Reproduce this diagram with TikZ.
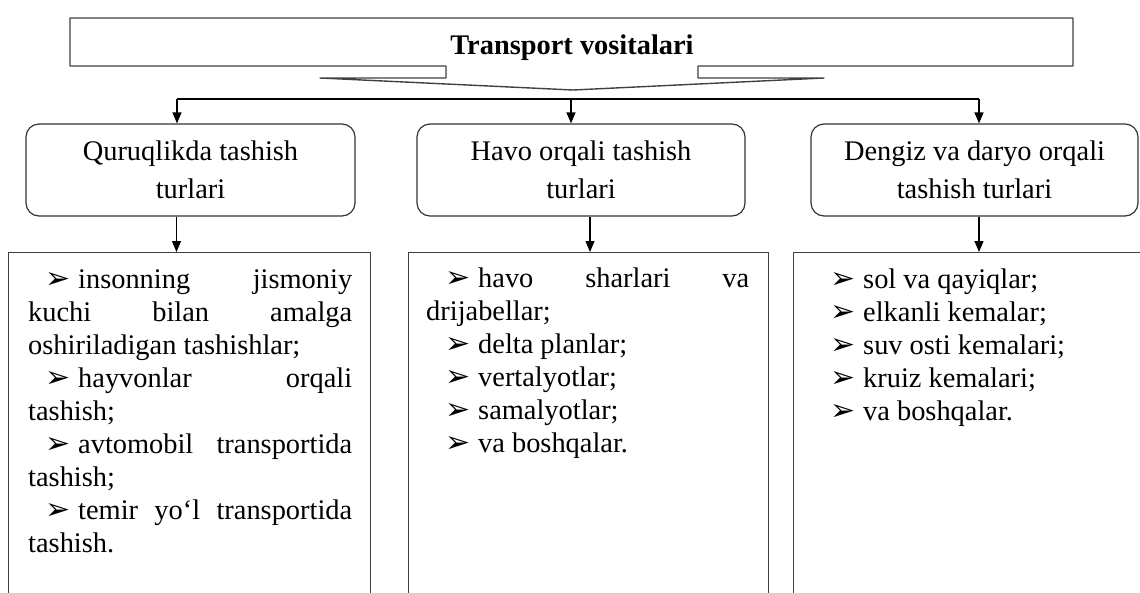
\documentclass[tikz,border=0pt]{standalone}
\usepackage{fontspec}
\setmainfont{Liberation Serif}
\newfontfamily\dingfont{DejaVu Sans}
\usetikzlibrary{arrows.meta}
\newcommand{\itm}{\makebox[33pt][l]{\smash{\dingfont\fontsize{30}{30}\selectfont ➢}}}
\newcommand{\bodyfont}{\fontsize{28.4}{33}\selectfont}
\begin{document}
\begin{tikzpicture}[x=1pt,y=-1pt,>={Triangle[length=11pt,width=9pt]},
  turbox/.style={draw=black!80,line width=1.2pt,rounded corners=13pt,minimum width=329pt,
    minimum height=92pt,align=center,font=\fontsize{28.4}{38}\selectfont,inner sep=0pt},
  listbox/.style={draw=black!75,line width=1.4pt,minimum width=362pt,minimum height=360pt,
    anchor=north west,inner sep=0pt},
  listtext/.style={anchor=base west,inner sep=0pt,font=\bodyfont}]
\useasboundingbox (0,0) rectangle (1140,592);
\clip (0,0) rectangle (1140,592);
% sarlavha
\draw[black!75,line width=1.4pt,line join=round] (70,18) -- (1073,18) -- (1073,66) -- (698,66)
  -- (698,78) -- (824,78) -- (573,90) -- (320,78) -- (446,78) -- (446,66) -- (70,66) -- cycle;
\node[font=\bfseries\fontsize{28.4}{34}\selectfont,anchor=base] (title) at (572,54) {Transport vositalari};
% tarmoq
\coordinate (bl) at (177,99);
\coordinate (bm) at (571,99);
\coordinate (br) at (979,99);
\draw[line width=1.2pt] (bl) -- (br);
\node[turbox] (quruq) at (190.5,170) {Quruqlikda tashish\\turlari};
\node[turbox,minimum width=328pt] (havo) at (581,170) {Havo orqali tashish\\turlari};
\node[turbox,minimum width=327pt] (dengiz) at (974.5,170) {Dengiz va daryo orqali\\tashish turlari};
\draw[->,line width=1.2pt] (bl) -- (bl |- quruq.north);
\draw[->,line width=1.2pt] (bm) -- (bm |- havo.north);
\draw[->,line width=1.2pt] (br) -- (br |- dengiz.north);
% ro'yxatlar
\node[listbox] (yer) at (8,252) {};
\node[listbox,minimum width=360pt] (osmon) at (408,252) {};
\node[listbox] (suv) at (793,252) {};
\draw[->,line width=1.2pt] ([xshift=-14pt]quruq.south) -- ([xshift=-14pt]quruq.south |- yer.north);
\draw[->,line width=1.2pt] ([xshift=9pt]havo.south) -- ([xshift=9pt]havo.south |- osmon.north);
\draw[->,line width=1.2pt] ([xshift=4.5pt]dengiz.south) -- ([xshift=4.5pt]dengiz.south |- suv.north);
\node[listtext] (yertxt) at (28,288) {\parbox[t]{324pt}{\hyphenpenalty=10000
  \hspace*{17pt}\itm insonning jismoniy\linebreak kuchi bilan amalga\linebreak oshiriladigan tashishlar;\par
  \hspace*{17pt}\itm hayvonlar orqali\linebreak tashish;\par
  \hspace*{17pt}\itm avtomobil transportida\linebreak tashish;\par
  \hspace*{17pt}\itm temir yo‘l transportida\linebreak tashish.}};
\node[listtext] (osmontxt) at (426,287) {\parbox[t]{323pt}{\hyphenpenalty=10000
  \hspace*{19pt}\itm havo sharlari va\linebreak drijabellar;\par
  \hspace*{19pt}\itm delta planlar;\par
  \hspace*{19pt}\itm vertalyotlar;\par
  \hspace*{19pt}\itm samalyotlar;\par
  \hspace*{19pt}\itm va boshqalar.}};
\node[listtext] (suvtxt) at (811,288) {\parbox[t]{323pt}{\hyphenpenalty=10000
  \hspace*{19pt}\itm sol va qayiqlar;\par
  \hspace*{19pt}\itm elkanli kemalar;\par
  \hspace*{19pt}\itm suv osti kemalari;\par
  \hspace*{19pt}\itm kruiz kemalari;\par
  \hspace*{19pt}\itm va boshqalar.}};
\end{tikzpicture}
\end{document}
